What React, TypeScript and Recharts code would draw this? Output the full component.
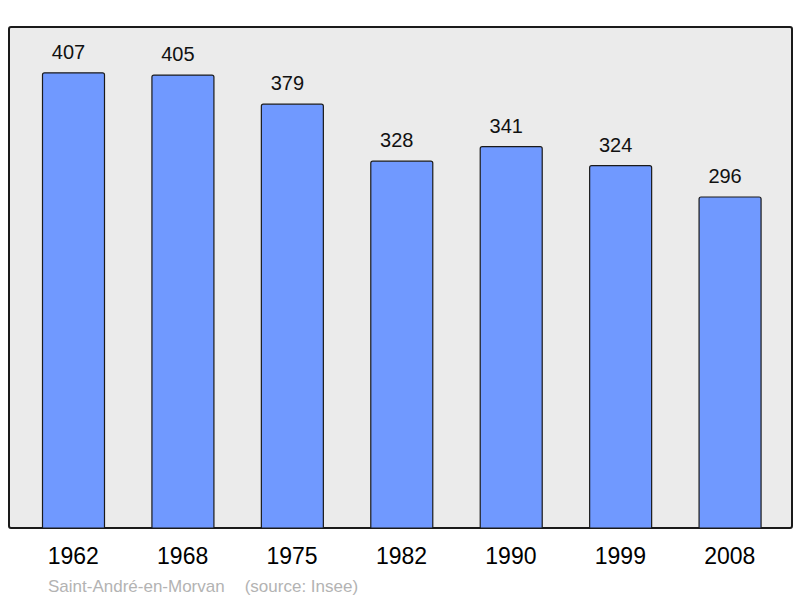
import React from "react";
import { Bar, BarChart, CartesianGrid, LabelList, XAxis, YAxis } from "recharts";

const years = ["1962", "1968", "1975", "1982", "1990", "1999", "2008"];
const population = [407, 405, 379, 328, 341, 324, 296];
const townName = "Saint-André-en-Morvan";
const sourceNote = "(source: Insee)";

const data = years.map((year, i) => ({ year, population: population[i] }));

const FONT = "'Liberation Sans', Arial, sans-serif";

export default function App() {
  return (
    <div style={{ position: "absolute", left: 0, top: 0, width: 800, height: 598, background: "#fff", fontFamily: FONT }}>
      {/* plot frame */}
      <div
        style={{
          position: "absolute",
          left: 8,
          top: 26,
          width: 781,
          height: 499,
          border: "2px solid #1a1a1a",
          borderRadius: 3,
          background: "#ebebeb",
        }}
      />
      <div style={{ position: "absolute", left: 0, top: 0 }}>
        <BarChart
          width={800}
          height={598}
          data={data}
          margin={{ top: 27, right: 8, bottom: 0, left: 9 }}
        >
          <CartesianGrid horizontal={false} vertical={false} fill="none" />
          <XAxis
            dataKey="year"
            axisLine={false}
            tickLine={false}
            tickSize={0}
            tickMargin={20}
            height={70}
            padding={{ left: 9.5, right: 7.5 }}
            interval={0}
            tick={{ fill: "#000", fontSize: 23, fontFamily: FONT }}
          />
          <YAxis hide domain={[0, 448]} />
          <Bar
            dataKey="population"
            fill="#7099ff"
            stroke="#1a1a1a"
            strokeWidth={1.2}
            barSize={62}
            radius={[2, 2, 0, 0]}
            isAnimationActive={false}
          >
            <LabelList
              dataKey="population"
              position="top"
              offset={14}
              dx={-5}
              fill="#111"
              fontSize={20}
              fontFamily={FONT}
            />
          </Bar>
        </BarChart>
      </div>
      <div
        style={{
          position: "absolute",
          left: 48,
          top: 576,
          fontSize: 17,
          lineHeight: "22px",
          color: "#b3b3b3",
          whiteSpace: "pre",
        }}
      >
        <span>{townName}</span>
        <span style={{ marginLeft: 20 }}>{sourceNote}</span>
      </div>
    </div>
  );
}
